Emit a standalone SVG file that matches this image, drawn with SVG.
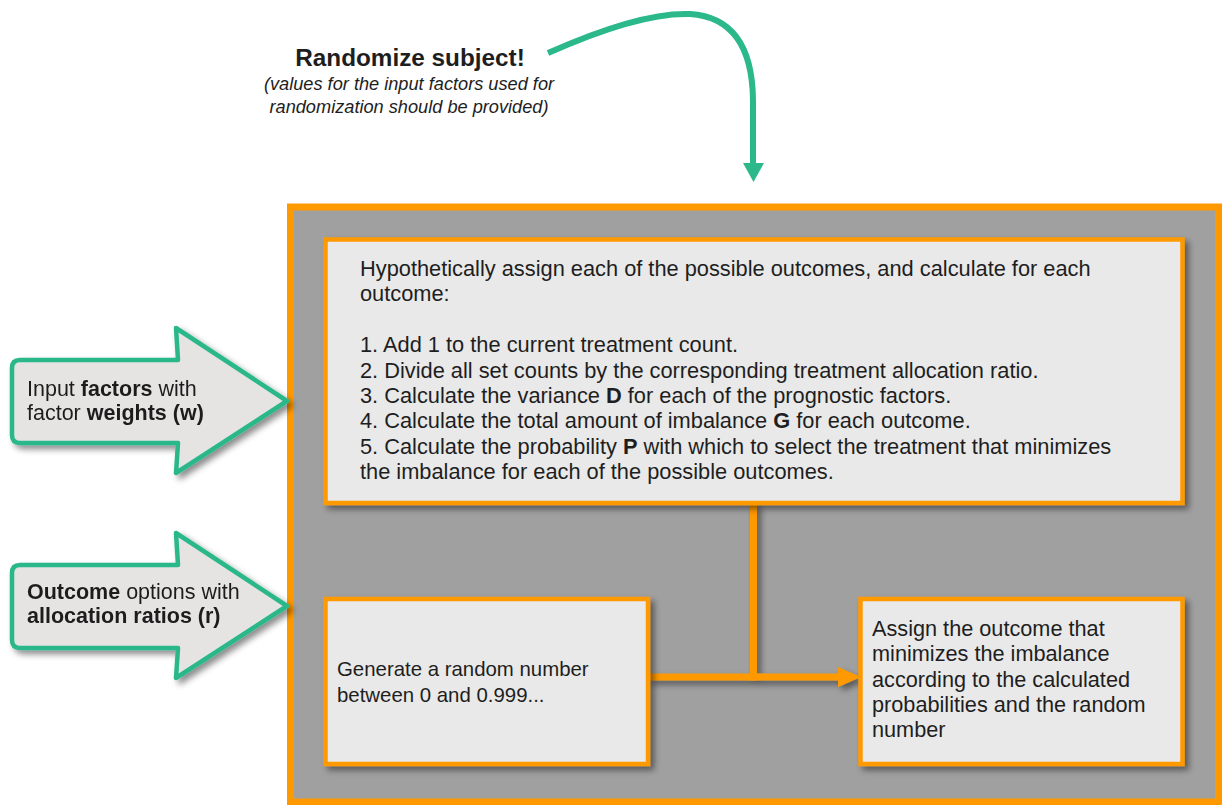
<svg xmlns="http://www.w3.org/2000/svg" width="1223" height="805" viewBox="0 0 1223 805">
<defs>
<filter id="sh" x="-10%" y="-10%" width="130%" height="130%">
<feDropShadow dx="4" dy="4" stdDeviation="3" flood-color="#000" flood-opacity="0.45"/>
</filter>
<style>
.t{font-family:"Liberation Sans",Arial,sans-serif;fill:#1e1e1e}
.box{fill:#e9e9e9;stroke:#ff9900;stroke-width:4.5}
.garrow{fill:#e6e3e3;stroke:#2bb88a;stroke-width:4.5;stroke-linejoin:round}
.conn{stroke:#ff9900;stroke-width:7;fill:none}
</style>
</defs>
<rect width="1223" height="805" fill="#ffffff"/>

<g id="title">
<text class="t" x="410" y="66" text-anchor="middle" font-size="24.3" font-weight="bold">Randomize subject!</text>
<text class="t" x="409" y="90" text-anchor="middle" font-size="18.2" font-style="italic" fill="#333">(values for the input factors used for</text>
<text class="t" x="409" y="113" text-anchor="middle" font-size="18.2" font-style="italic" fill="#333">randomization should be provided)</text>
</g>

<g id="start-arrow">
<path d="M548,53 Q640,12 690,14 Q752,18 753,100 L753,165" fill="none" stroke="#2bb88a" stroke-width="6"/>
<polygon points="743,163 764,163 753.5,182" fill="#2bb88a"/>
</g>

<g id="container">
<rect x="290.5" y="207" width="928" height="595" fill="#a0a0a0" stroke="#ff9900" stroke-width="7"/>
</g>

<g id="input-factors" filter="url(#sh)">
<path class="garrow" d="M20,360 L178,360 L176,328 L287,401 L176,473 L178,443 L20,443 Q12,443 12,435 L12,368 Q12,360 20,360 Z"/>
<text class="t" x="27" y="396" font-size="21.5">Input <tspan font-weight="bold">factors</tspan> with</text>
<text class="t" x="27" y="420" font-size="21.5">factor <tspan font-weight="bold">weights (w)</tspan></text>
</g>

<g id="outcome-options" filter="url(#sh)">
<path class="garrow" d="M20,565 L178,565 L176,533 L287,606 L176,678 L178,648 L20,648 Q12,648 12,640 L12,573 Q12,565 20,565 Z"/>
<text class="t" x="27" y="599" font-size="21.5"><tspan font-weight="bold">Outcome</tspan> options with</text>
<text class="t" x="27" y="623" font-size="21.5"><tspan font-weight="bold">allocation ratios (r)</tspan></text>
</g>

<g id="connectors" filter="url(#sh)">
<line class="conn" x1="753.5" y1="503" x2="753.5" y2="680.5"/>
<line class="conn" x1="648" y1="677" x2="842" y2="677"/>
<polygon points="838,667 861,677 838,687" fill="#ff9900"/>
</g>

<g id="calc-box">
<rect class="box" x="325.5" y="239.5" width="857" height="263.5" filter="url(#sh)"/>
<text class="t" font-size="21.8">
<tspan x="360" y="276">Hypothetically assign each of the possible outcomes, and calculate for each</tspan>
<tspan x="360" y="301.4">outcome:</tspan>
<tspan x="360" y="352.2">1. Add 1 to the current treatment count.</tspan>
<tspan x="360" y="377.6">2. Divide all set counts by the corresponding treatment allocation ratio.</tspan>
<tspan x="360" y="403">3. Calculate the variance <tspan font-weight="bold">D</tspan> for each of the prognostic factors.</tspan>
<tspan x="360" y="428.4">4. Calculate the total amount of imbalance <tspan font-weight="bold">G</tspan> for each outcome.</tspan>
<tspan x="360" y="453.8">5. Calculate the probability <tspan font-weight="bold">P</tspan> with which to select the treatment that minimizes</tspan>
<tspan x="360" y="479.2">the imbalance for each of the possible outcomes.</tspan>
</text>
</g>

<g id="random-box">
<rect class="box" x="325.5" y="599" width="322.5" height="165" filter="url(#sh)"/>
<text class="t" font-size="20.4">
<tspan x="337" y="676">Generate a random number</tspan>
<tspan x="337" y="702">between 0 and 0.999...</tspan>
</text>
</g>

<g id="assign-box">
<rect class="box" x="860.5" y="599" width="322" height="165" filter="url(#sh)"/>
<text class="t" font-size="21.7">
<tspan x="872" y="636">Assign the outcome that</tspan>
<tspan x="872" y="661.3">minimizes the imbalance</tspan>
<tspan x="872" y="686.6">according to the calculated</tspan>
<tspan x="872" y="711.9">probabilities and the random</tspan>
<tspan x="872" y="737.2">number</tspan>
</text>
</g>
</svg>
